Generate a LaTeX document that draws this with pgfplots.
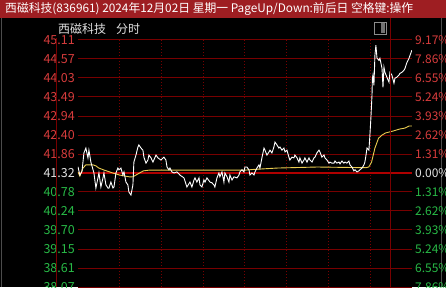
\documentclass[border=0pt]{standalone}
\usepackage{fontspec}
\setmainfont{Noto Sans CJK SC}
\usepackage{pgfplots}
\usepackage{pgfplotstable}
\pgfplotsset{compat=1.18}
\definecolor{titlebar}{RGB}{158,30,34}
\definecolor{gridred}{RGB}{120,0,0}
\definecolor{basered}{RGB}{175,0,0}
\definecolor{upred}{RGB}{215,60,60}
\definecolor{downgreen}{RGB}{40,185,70}
\definecolor{flatwhite}{RGB}{225,225,225}
\definecolor{avgyellow}{RGB}{235,205,80}
\newcommand{\U}[1]{\mbox{\textcolor{upred}{#1}}}
\newcommand{\D}[1]{\mbox{\textcolor{downgreen}{#1}}}
\newcommand{\F}[1]{\mbox{\textcolor{flatwhite}{#1}}}

\pgfplotstableread{
t p
0 41.50
1.4 41.26
2.9 41.36
4.3 41.89
5.7 42.03
7.2 41.75
7.9 41.97
9.3 41.63
11.5 41.32
12.9 40.89
14.4 41.18
15.1 41.32
16.5 40.92
18.0 41.18
18.7 41.32
20.1 40.98
21.6 40.89
22.3 40.89
23.7 41.06
25.2 40.89
25.9 40.92
27.3 41.32
28.7 41.46
29.5 41.41
30.9 41.46
32.3 41.26
33.1 41.35
34.5 41.06
35.9 40.98
36.6 40.78
38.1 40.69
39.5 40.98
40.2 41.63
41.7 41.83
43.1 42.06
43.8 42.12
45.3 42.03
46.7 41.97
47.4 41.77
48.9 41.60
50.3 41.69
51.0 41.83
52.5 41.75
53.9 41.63
56.1 41.83
57.5 41.75
59.6 41.69
61.8 41.77
63.2 41.69
64.0 41.49
65.4 41.41
66.1 41.46
67.5 41.35
69.0 41.32
71.1 41.35
73.3 41.26
76.2 41.18
78.3 40.92
80.5 41.06
81.9 40.92
83.4 41.12
84.1 41.18
85.5 41.06
87.0 41.18
87.7 40.98
89.1 40.92
90.5 41.12
91.3 41.06
92.7 41.18
94.9 41.06
96.3 41.04
97.7 40.98
98.4 40.92
99.9 41.18
101.3 41.32
102.0 41.21
103.5 41.35
104.9 41.06
105.6 41.32
107.1 41.21
108.5 41.06
109.2 41.26
110.7 41.12
112.1 41.21
114.3 41.18
115.7 41.26
116.4 41.35
117.9 41.41
119.3 41.35
120.0 41.49
121.4 41.49
122.9 41.41
123.6 41.26
125.0 41.32
126.5 41.26
127.2 41.35
128.6 41.46
130.1 41.55
130.8 41.46
132.2 41.75
133.7 42.03
134.4 41.97
135.8 41.83
137.3 41.92
138.0 41.97
139.4 41.89
140.8 42.06
141.6 42.20
143.0 42.12
144.4 42.03
145.2 42.06
146.6 41.97
148.0 42.03
148.8 41.92
150.2 41.97
151.6 41.77
152.3 41.69
153.8 41.77
155.2 41.75
155.9 41.83
157.4 41.75
158.8 41.63
159.5 41.75
161.0 41.60
162.4 41.69
163.1 41.75
164.6 41.63
166.0 41.75
166.7 41.69
168.2 41.63
169.6 41.75
170.3 41.77
171.7 41.89
173.2 41.97
173.9 41.92
175.3 41.77
176.8 41.83
177.5 41.75
178.9 41.69
180.4 41.60
181.1 41.63
182.5 41.60
184.0 41.60
184.7 41.66
186.1 41.60
187.6 41.63
188.3 41.58
189.7 41.66
191.1 41.60
191.9 41.63
193.3 41.60
194.7 41.66
195.5 41.55
196.9 41.49
198.3 41.38
199.1 41.41
200.5 41.35
201.9 41.38
202.6 41.41
204.1 41.46
205.5 41.55
206.2 41.63
207.0 41.83
207.7 42.03
209.1 41.97
209.8 42.40
210.5 42.88
211.3 43.54
211.6 44.02
212.0 44.11
212.7 43.82
213.4 44.67
214.1 44.96
214.9 44.59
216.3 44.53
217.0 44.59
218.5 44.30
219.2 43.76
219.9 44.33
220.6 44.19
222.0 44.05
223.5 43.91
224.2 44.19
225.6 44.11
227.1 43.88
227.8 44.02
229.2 44.05
230.7 44.11
231.4 44.16
232.8 44.19
234.3 44.25
235.0 44.30
236.4 44.47
237.9 44.59
238.6 44.67
240.0 44.82
}\pricetable

\pgfplotstableread{
t p
0 41.35
1.4 41.23
3.6 41.46
5.7 41.55
11 41.55
13 41.52
15 41.46
19 41.40
25 41.32
30 41.26
37 41.21
39.5 41.21
43 41.29
47 41.38
51 41.40
63 41.40
84 41.40
100 41.40
120 41.40
126 41.42
143 41.46
172 41.49
207 41.47
209 41.49
211 41.63
213.4 42.03
216 42.31
218.5 42.40
221 42.46
226 42.51
231 42.57
235 42.60
238 42.66
240 42.66
}\avgtable

\begin{document}
\begin{tikzpicture}[x=1pt,y=1pt]
\useasboundingbox (0,0) rectangle (446,287);
\fill[black] (0,0) rectangle (446,287);
\fill[titlebar] (0,269) rectangle (446,287);
\node[anchor=west, text=white, font=\fontsize{11.8}{14}\selectfont, inner sep=0pt] at (5,278) {西磁科技(836961) 2024年12月02日 星期一 PageUp/Down:前后日 空格键:操作};
\node[anchor=west, text=flatwhite, font=\fontsize{12}{14}\selectfont, inner sep=0pt] at (58,258) {西磁科技\hspace{10pt}分时};
\draw[black!45, line width=1pt] (374.5,252.5) rectangle (386,264.5);
\fill[black!55] (381,253.5) rectangle (385,263.5);
\draw[black!70, line width=0.8pt] (1.5,0) -- (1.5,269);
\draw[black!70, line width=0.8pt] (441.5,0) -- (441.5,269);

\begin{axis}[
  at={(56,0)}, anchor=south west, scale only axis,
  width=334pt, height=247pt,
  xmin=0, xmax=240, ymin=38.07, ymax=45.11,
  axis line style={draw=none},
  xtick={30,60,...,210}, xticklabels={},
  xmajorgrids, x grid style={gridred, line width=0.9pt, dash pattern=on 1pt off 2pt},
  ytick={38.07,38.61,39.15,39.70,40.24,40.78,41.32,41.86,42.40,42.94,43.49,44.03,44.57,45.11},
  yticklabels={\D{38.07},\D{38.61},\D{39.15},\D{39.70},\D{40.24},\D{40.78},\F{41.32},\U{41.86},\U{42.40},\U{42.94},\U{43.49},\U{44.03},\U{44.57},\U{45.11}},
  ymajorgrids, y grid style={gridred, line width=1pt},
  major tick length=0pt,
  yticklabel style={font=\fontsize{12.5}{14}\selectfont, anchor=east, inner sep=0pt, xshift=-3pt},
]
\draw[basered, line width=2pt] (axis cs:0,41.32) -- (axis cs:240,41.32);
\addplot[avgyellow, line width=0.9pt, no marks] table[x=t, y=p] {\avgtable};
\addplot[white, line width=0.9pt, no marks] table[x=t, y=p] {\pricetable};
\end{axis}

\begin{axis}[
  at={(56,0)}, anchor=south west, scale only axis,
  width=334pt, height=247pt,
  xmin=0, xmax=240, ymin=38.07, ymax=45.11,
  axis y line*=right, axis x line=none,
  axis line style={draw=none},
  ytick={38.07,38.61,39.15,39.70,40.24,40.78,41.32,41.86,42.40,42.94,43.49,44.03,44.57,45.11},
  yticklabels={\D{7.86\%},\D{6.55\%},\D{5.24\%},\D{3.93\%},\D{2.62\%},\D{1.31\%},\F{0.00\%},\U{1.31\%},\U{2.62\%},\U{3.93\%},\U{5.24\%},\U{6.55\%},\U{7.86\%},\U{9.17\%}},
  major tick length=0pt,
  yticklabel style={font=\fontsize{12}{14}\selectfont, anchor=west, inner sep=0pt, xshift=3pt},
]
\end{axis}
\draw[gridred, line width=1pt] (56,0) -- (56,249);
\draw[gridred, line width=1pt] (390,0) -- (390,269);
\end{tikzpicture}
\end{document}
